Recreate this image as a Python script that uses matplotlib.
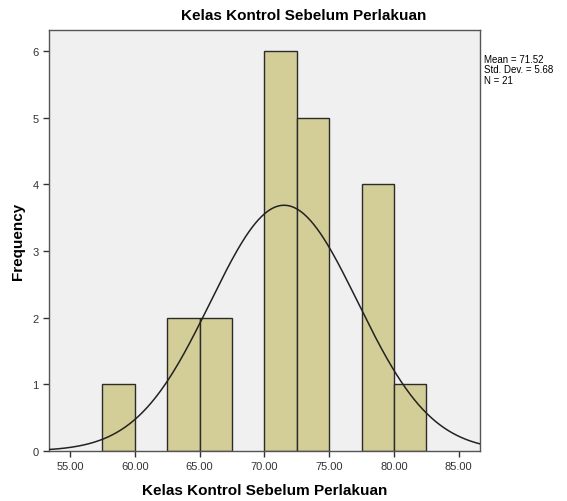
import numpy as np
import matplotlib
matplotlib.use('Agg')
import matplotlib.pyplot as plt

plt.rcParams['font.family'] = ['Liberation Sans', 'DejaVu Sans']

# histogram bins (left edges) and counts, bin width 2.5
bin_left = [57.5, 62.5, 65.0, 70.0, 72.5, 77.5, 80.0]
counts = [1, 2, 2, 6, 5, 4, 1]
bin_width = 2.5
mean, sd, n = 71.52, 5.68, 21
x_ticks = [55, 60, 65, 70, 75, 80, 85]
y_ticks = [0, 1, 2, 3, 4, 5, 6]
title = 'Kelas Kontrol Sebelum Perlakuan'

fig = plt.figure(figsize=(5.67, 5.02), dpi=100)
ax = fig.add_axes([0.0864, 0.0996, 0.7602, 0.8377])
ax.set_facecolor('#f0f0f0')

ax.bar(bin_left, counts, width=bin_width, align='edge', color='#d3ce97',
       edgecolor='#2b2b2b', linewidth=1.0, zorder=2)

xs = np.linspace(53.38, 86.64, 400)
ys = n * bin_width * np.exp(-0.5 * ((xs - mean) / sd) ** 2) / (sd * np.sqrt(2 * np.pi))
ax.plot(xs, ys, color='#222222', linewidth=1.1, zorder=3)

ax.set_xlim(53.38, 86.64)
ax.set_ylim(0, 6.31)
ax.set_xticks(x_ticks)
ax.set_xticklabels(['%.2f' % v for v in x_ticks])
ax.set_yticks(y_ticks)
ax.tick_params(direction='out', length=4, width=1, colors='#333333',
               labelsize=8, labelcolor='#333333')
for s in ax.spines.values():
    s.set_color('#555555')
    s.set_linewidth(1.0)

ax.set_xlabel(title, fontsize=11, fontweight='bold', labelpad=8)
ax.set_ylabel('Frequency', fontsize=11, fontweight='bold')
ax.yaxis.set_label_coords(-0.056, 0.5)
fig.text(304 / 567, 1 - 16 / 502, title, fontsize=11, fontweight='bold',
         ha='center', va='center')
fig.text(484 / 567, 1 - 55 / 502,
         'Mean = %.2f\nStd. Dev. = %.2f\nN = %d' % (mean, sd, n),
         fontsize=7, va='top', ha='left', linespacing=1.05)

fig.savefig('out.png', dpi=100, facecolor='white')
